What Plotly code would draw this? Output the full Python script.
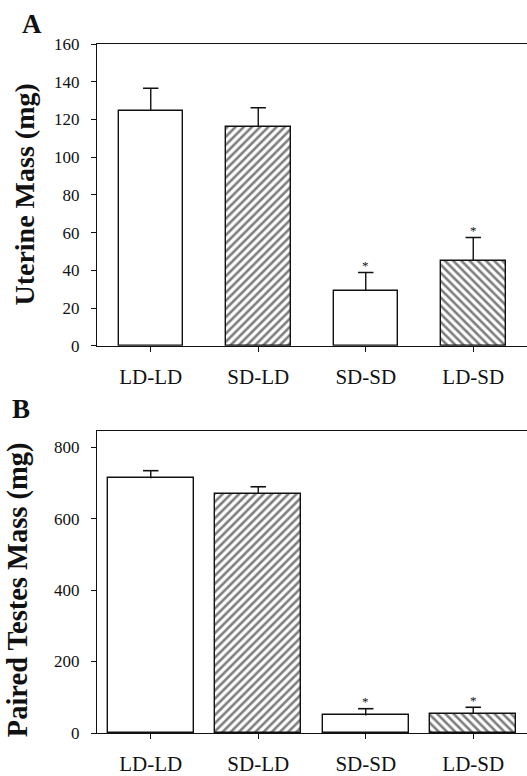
import plotly.graph_objects as go

categories = ["LD-LD", "SD-LD", "SD-SD", "LD-SD"]
uterine_mean = [124.5, 116.0, 29.0, 45.0]
uterine_sem = [12.0, 10.2, 9.8, 12.4]
testes_mean = [713.0, 669.0, 49.0, 54.0]
testes_sem = [21.0, 20.0, 19.0, 18.0]
patterns = ["", "/", "", "\\"]
significant = [False, False, True, True]
uterine_ticks = [0, 20, 40, 60, 80, 100, 120, 140, 160]
testes_ticks = [0, 200, 400, 600, 800]

SERIF = "Liberation Serif"
INK = "#111111"

fig = go.Figure()


def add_panel(means, sems, width, xa, ya):
    fig.add_trace(go.Bar(
        x=categories, y=means, width=width,
        xaxis=xa, yaxis=ya,
        marker=dict(
            color="white",
            line=dict(color=INK, width=1.4),
            pattern=dict(shape=patterns, fgcolor="black", bgcolor="white",
                         size=5.8, solidity=0.45),
        ),
        showlegend=False, hoverinfo="skip",
    ))
    # one-sided (upper) error bars: stem + cap
    xs, ys = [], []
    for c, m, s in zip(categories, means, sems):
        xs += [c, c, None]
        ys += [m, m + s, None]
    fig.add_trace(go.Scatter(x=xs, y=ys, mode="lines", xaxis=xa, yaxis=ya,
                             line=dict(color=INK, width=1.4),
                             showlegend=False, hoverinfo="skip"))
    fig.add_trace(go.Scatter(x=categories, y=[m + s for m, s in zip(means, sems)],
                             mode="markers", xaxis=xa, yaxis=ya,
                             marker=dict(symbol="line-ew", size=11,
                                         line=dict(color=INK, width=1.6)),
                             showlegend=False, hoverinfo="skip"))
    for c, m, s, sig in zip(categories, means, sems, significant):
        if sig:
            fig.add_annotation(x=c, y=m + s, xref=xa, yref=ya, text="*",
                               showarrow=False, yanchor="middle", yshift=7,
                               font=dict(family=SERIF, size=13, color=INK))


add_panel(uterine_mean, uterine_sem, 0.6, "x", "y")
add_panel(testes_mean, testes_sem, 0.8, "x2", "y2")

xcommon = dict(range=[-0.5, 3.5], showline=True, linecolor=INK, linewidth=1.4,
               mirror=True, ticks="outside", ticklen=5, tickwidth=1.2,
               tickcolor=INK, ticklabelstandoff=7, showgrid=False,
               zeroline=False,
               tickfont=dict(family=SERIF, size=21, color=INK))
ycommon = dict(showline=True, linecolor=INK, linewidth=1.4, mirror=False,
               ticks="outside", ticklen=5, tickwidth=1.2, tickcolor=INK,
               ticklabelstandoff=8, showgrid=False, zeroline=False,
               tickfont=dict(family=SERIF, size=17, color=INK))

fig.update_layout(
    width=527, height=776,
    margin=dict(l=97, r=0, t=44, b=40),
    paper_bgcolor="white", plot_bgcolor="white",
    bargap=0,
    xaxis=dict(xcommon, anchor="y", domain=[0, 1]),
    yaxis=dict(ycommon, anchor="x", domain=[0.5621, 1], range=[0, 160],
               tickvals=uterine_ticks),
    xaxis2=dict(xcommon, anchor="y2", domain=[0, 1]),
    yaxis2=dict(ycommon, anchor="x2", domain=[0, 0.4383], range=[0, 845],
                tickvals=testes_ticks),
)

# y-axis titles and panel letters
fig.add_annotation(xref="paper", yref="paper", x=-0.168, y=0.7811,
                   text="<b>Uterine Mass (mg)</b>", textangle=-90,
                   showarrow=False, xanchor="center", yanchor="middle",
                   font=dict(family=SERIF, size=28, color=INK))
fig.add_annotation(xref="paper", yref="paper", x=-0.184, y=0.2085,
                   text="<b>Paired Testes Mass (mg)</b>", textangle=-90,
                   showarrow=False, xanchor="center", yanchor="middle",
                   font=dict(family=SERIF, size=28.5, color=INK))
fig.add_annotation(xref="paper", yref="paper", x=-0.151, y=1.029,
                   text="<b>A</b>", showarrow=False, xanchor="center",
                   yanchor="middle",
                   font=dict(family=SERIF, size=27, color=INK))
fig.add_annotation(xref="paper", yref="paper", x=-0.177, y=0.4697,
                   text="<b>B</b>", showarrow=False, xanchor="center",
                   yanchor="middle",
                   font=dict(family=SERIF, size=27, color=INK))

fig.write_html("out.html")
